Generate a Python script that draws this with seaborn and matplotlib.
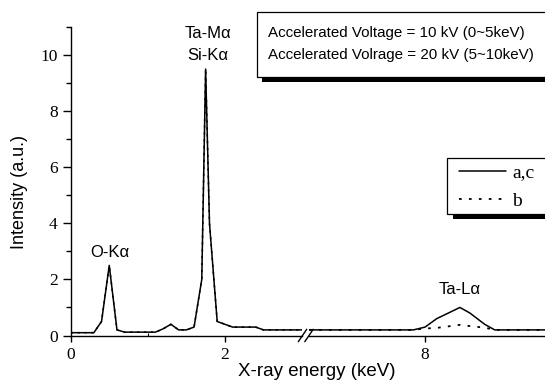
import numpy as np
import pandas as pd
import matplotlib
matplotlib.use("Agg")
import matplotlib.pyplot as plt
from matplotlib.patches import Rectangle
from matplotlib.lines import Line2D
import seaborn as sns

# spectrum a,c (solid) - left part 0~3 keV, right part 6.5~9.55 keV
energy_left = [0, 0.3, 0.4, 0.5, 0.6, 0.7, 1.1, 1.2, 1.3, 1.4, 1.5, 1.6, 1.7, 1.75, 1.8, 1.9, 2.1, 2.4, 2.5, 3.0]
ac_left = [0.1, 0.1, 0.5, 2.5, 0.2, 0.12, 0.12, 0.24, 0.4, 0.2, 0.2, 0.3, 2.0, 9.5, 4.0, 0.5, 0.3, 0.3, 0.2, 0.2]
energy_right = [6.5, 7.85, 8.0, 8.15, 8.45, 8.58, 8.77, 8.9, 9.55]
ac_right = [0.2, 0.2, 0.3, 0.6, 1.0, 0.8, 0.4, 0.2, 0.2]

# spectrum b (dotted)
b_left = ac_left
energy_b_right = [6.5, 7.85, 8.0, 8.15, 8.45, 8.6, 8.77, 8.9, 9.55]
b_right = [0.2, 0.2, 0.25, 0.27, 0.38, 0.33, 0.28, 0.2, 0.2]

peak_labels = ["O-K\u03b1", "Ta-M\u03b1\nSi-K\u03b1", "Ta-L\u03b1"]
box_lines = ["Accelerated Voltage = 10 kV (0~5keV)",
             "Accelerated Volrage = 20 kV (5~10keV)"]

W, H = 545, 382
sns.set_style("ticks")
plt.rcParams["font.family"] = ["Liberation Sans", "DejaVu Sans"]
plt.rcParams.update({"text.color": "k", "axes.labelcolor": "k", "axes.edgecolor": "k",
                     "xtick.color": "k", "ytick.color": "k"})

fig = plt.figure(figsize=(W / 100, H / 100), dpi=100)

def fx(px):
    return px / W

def fy(py):
    return 1 - py / H

bottom, top = fy(335.5), fy(27)
x0, x_break_l, x_break_r, x_end = 70.7, 302, 309, 545
ax1 = fig.add_axes([fx(x0), bottom, fx(x_break_l - x0), top - bottom])
ax2 = fig.add_axes([fx(x_break_r), bottom, fx(x_end - x_break_r), top - bottom])

left_df = pd.DataFrame({"energy": energy_left, "ac": ac_left, "b": b_left})
sns.lineplot(data=left_df, x="energy", y="ac", ax=ax1, color="k", lw=1.1, estimator=None)
sns.lineplot(data=left_df, x="energy", y="b", ax=ax1, color="k", lw=1.1, estimator=None,
             linestyle=(0, (1.5, 3)))
sns.lineplot(x=energy_right, y=ac_right, ax=ax2, color="k", lw=1.1, estimator=None)
sns.lineplot(x=energy_b_right, y=b_right, ax=ax2, color="k", lw=1.3, estimator=None,
             linestyle=(0, (1.5, 4)))

for ax in (ax1, ax2):
    ax.set_ylim(0, 11)
    ax.set_xlabel("")
    ax.set_ylabel("")
    ax.set_facecolor("none")
    ax.spines["top"].set_visible(False)
    ax.spines["right"].set_visible(False)
    ax.spines["bottom"].set_linewidth(1.0)
    ax.tick_params(axis="x", which="major", direction="out", length=4, width=1.0, pad=4,
                   labelsize=12)
    ax.tick_params(axis="x", which="minor", direction="in", length=2, width=0.8)

ax1.set_xlim(0, 3.0)
ax2.set_xlim(6.5, 9.55)
ax1.set_xticks([0, 2])
ax1.set_xticks([1], minor=True)
ax2.set_xticks([8])
ax1.set_xticklabels(["0", "2"], fontfamily="Liberation Serif", fontsize=12.5)
ax2.set_xticklabels(["8"], fontfamily="Liberation Serif", fontsize=12.5)

ax1.spines["left"].set_linewidth(1.0)
ax1.set_yticks(range(0, 11, 2))
ax1.set_yticks(range(1, 12, 2), minor=True)
ax1.set_yticklabels([str(v) for v in range(0, 11, 2)], fontfamily="Liberation Serif",
                    fontsize=12.5)
ax1.tick_params(axis="y", which="major", direction="out", length=5.5, width=1.0, pad=4)
ax1.tick_params(axis="y", which="minor", direction="out", length=3.5, width=1.0)

ax2.spines["left"].set_visible(False)
ax2.tick_params(axis="y", left=False, labelleft=False, which="both")

# axis labels
fig.text(fx(20), fy(192), "Intensity (a.u.)", rotation=90, ha="center", va="center",
         fontsize=13)
fig.text(fx(317), fy(371), "X-ray energy (keV)", ha="center", va="center", fontsize=13.5)

# peak labels
ax1.text(0.51, 2.97, peak_labels[0], ha="center", va="center", fontsize=12)
ax1.text(1.78, 10.37, peak_labels[1], ha="center", va="center", fontsize=12, linespacing=1.6)
ax2.text(8.45, 1.65, peak_labels[2], ha="center", va="center", fontsize=12)

# axis break marks
for xc in (302.5, 309):
    fig.add_artist(Line2D([fx(xc - 4.2), fx(xc + 4.2)], [fy(341.7), fy(329.3)],
                          color="k", lw=1.0))

# info box with black drop shadow
fig.add_artist(Rectangle((fx(262), fy(82)), fx(320), fy(77) - fy(82), facecolor="k",
                         edgecolor="none", clip_on=False))
fig.add_artist(Rectangle((fx(257), fy(77)), fx(320), fy(12) - fy(77), facecolor="white",
                         edgecolor="k", lw=0.9, clip_on=False))
fig.text(fx(268), fy(33), box_lines[0], ha="left", va="center", fontsize=10.9)
fig.text(fx(268), fy(55), box_lines[1], ha="left", va="center", fontsize=10.9)

# legend with black drop shadow
fig.add_artist(Rectangle((fx(453), fy(219)), fx(120), fy(214) - fy(219), facecolor="k",
                         edgecolor="none", clip_on=False))
fig.add_artist(Rectangle((fx(447), fy(214)), fx(120), fy(158) - fy(214), facecolor="white",
                         edgecolor="k", lw=0.9, clip_on=False))
handles = [Line2D([], [], color="k", lw=1.1),
           Line2D([], [], color="k", lw=1.3, linestyle=(0, (1.5, 4)))]
leg = fig.legend(handles, ["a,c", "b"], loc="upper left",
                 bbox_to_anchor=(fx(455), fy(160)), borderaxespad=0, frameon=False,
                 handlelength=2.4, handletextpad=0.35, labelspacing=0.55, borderpad=0.2,
                 prop={"family": "Liberation Serif", "size": 14})

fig.savefig("out.png", dpi=100)
